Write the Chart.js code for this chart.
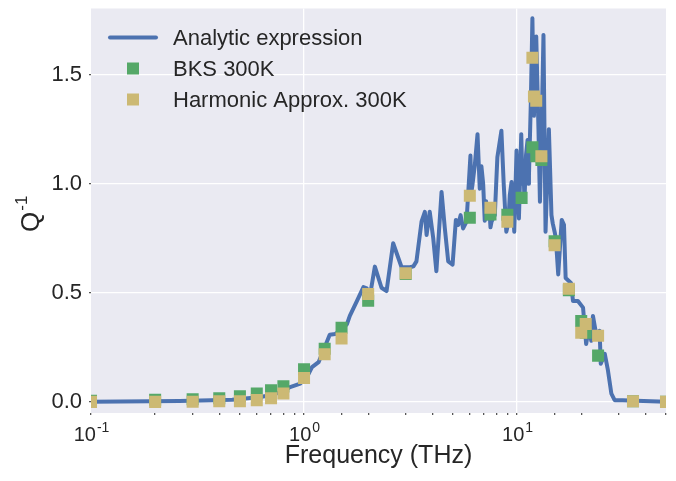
<!DOCTYPE html>
<html>
<head>
<meta charset="utf-8">
<script src="https://cdn.jsdelivr.net/npm/chart.js@4.4.1/dist/chart.umd.min.js"></script>
<style>
  html, body { margin: 0; padding: 0; background: #fff; }
  canvas { display: block; }
</style>
</head>
<body>
<canvas id="chart" width="676" height="481"></canvas>
<script>
// analytic curve
const curveFreq = [0.1, 0.26, 0.46, 0.56, 0.62, 0.7, 0.8, 0.86, 0.96, 1.04, 1.09, 1.17, 1.25, 1.32, 1.40, 1.50, 1.59, 1.64, 1.77, 1.90,
  1.97, 2.05, 2.15, 2.31, 2.44, 2.62, 2.87, 3.14, 3.26, 3.37, 3.56, 3.69, 3.76, 3.89, 4.04, 4.18, 4.42, 4.58, 4.75, 4.98,
  5.16, 5.29, 5.43, 5.58, 5.79, 6.04, 6.1, 6.17, 6.33, 6.52, 6.68, 6.8, 6.93, 7.05, 7.15, 7.23, 7.4, 7.5, 7.59, 7.86,
  8.08, 8.44, 8.66, 8.9, 9.1, 9.24, 9.42, 9.7, 9.94, 10.2, 10.46, 10.6, 10.7, 10.83, 11.01, 11.2, 11.3, 11.37, 11.6, 11.8,
  12.0, 12.3, 12.6, 12.8, 13.0, 13.3, 13.6, 14.1, 14.5, 14.7, 15.0, 15.2, 15.6, 16.2, 16.6, 16.9, 17.9, 18.3, 19.3, 20.4,
  21.1, 21.7, 22.3, 22.7, 23.5, 24.4, 24.7, 25.8, 26.7, 27.7, 28.7, 31.3, 36.2, 50];
const curveQ = [0.0, 0.004, 0.010, 0.018, 0.022, 0.03, 0.05, 0.068, 0.084, 0.12, 0.159, 0.182, 0.25, 0.308, 0.311, 0.33, 0.356, 0.394, 0.462, 0.526,
  0.52, 0.50, 0.62, 0.523, 0.508, 0.727, 0.617, 0.617, 0.621, 0.644, 0.826, 0.871, 0.765, 0.871, 0.75, 0.599, 0.962, 0.795, 0.644, 0.629,
  0.834, 0.811, 0.856, 0.795, 0.826, 1.129, 0.96, 0.993, 1.084, 1.227, 0.977, 1.08, 1.0, 0.83, 0.92, 0.841, 0.90, 0.80, 0.826, 0.856,
  1.121, 1.243, 0.993, 0.78, 0.82, 0.947, 1.008, 0.78, 1.152, 0.841, 1.227, 1.0, 1.1, 0.917, 1.129, 1.2, 1.0, 1.038, 1.371, 1.758,
  1.311, 1.675, 1.25, 0.917, 1.19, 1.682, 0.78, 1.25, 0.856, 0.818, 0.78, 0.75, 0.584, 0.834, 0.811, 0.568, 0.545, 0.462, 0.462, 0.432,
  0.265, 0.341, 0.28, 0.394, 0.311, 0.326, 0.175, 0.22, 0.144, 0.038, 0.008, 0.008, 0.005, 0.0];

// simulation points
const pointFreq = [0.1, 0.2, 0.3, 0.4, 0.5, 0.6, 0.7, 0.8, 1.0, 1.25, 1.5, 2, 3, 6, 7.5, 9, 10.5, 11.8, 12.0, 12.3, 13, 15, 17.5, 20, 21, 24, 35, 50];
const bksQ = [0.005, 0.01, 0.012, 0.017, 0.026, 0.038, 0.053, 0.071, 0.15, 0.244, 0.34, 0.464, 0.586, 0.844, 0.859, 0.858, 0.935, 1.167, null, 1.126,
  1.109, 0.736, 0.512, 0.371, 0.317, 0.212, 0.003, 0.0];
const harmonicQ = [0.0, 0.0, 0.001, 0.003, 0.003, 0.008, 0.017, 0.038, 0.109, 0.218, 0.29, 0.494, 0.59, 0.945, 0.89, 0.826, null, 1.577, 1.40, 1.38,
  1.126, 0.718, 0.518, 0.317, 0.357, 0.303, 0.003, 0.0];

const seriesNames = ['Analytic expression', 'BKS 300K', 'Harmonic Approx. 300K'];
const seriesColors = ['#4C72B0', '#55A868', '#CCB974'];
const xTickExps = [-1, 0, 1];
const xTitle = 'Frequency (THz)';

const FONT = '"Liberation Sans", Arial, Helvetica, sans-serif';
const TEXT = '#262626';

function isDecade(v) {
  if (!v || v <= 0.1) return false;
  const l = Math.log10(v);
  return Math.abs(l - Math.round(l)) < 1e-6;
}

function toPoints(xs, ys) {
  return xs.map((x, i) => ({ x: x, y: ys[i] })).filter(p => p.y !== null);
}

// background, tick labels with superscripts, axis titles and legend
const decor = {
  id: 'decor',
  beforeDraw(chart) {
    const { ctx, chartArea: a } = chart;
    ctx.save();
    ctx.fillStyle = '#EAEAF2';
    ctx.fillRect(a.left, a.top, a.right - a.left, a.bottom - a.top);
    ctx.restore();
  },
  afterDraw(chart) {
    const { ctx, chartArea: a, scales } = chart;
    ctx.save();
    ctx.fillStyle = TEXT;
    ctx.textAlign = 'left';
    ctx.textBaseline = 'alphabetic';

    xTickExps.forEach(e => {
      const x = scales.x.getPixelForValue(Math.pow(10, e));
      const sup = e < 0 ? '-' + (-e) : String(e);
      ctx.font = '20px ' + FONT;
      const w1 = ctx.measureText('10').width;
      ctx.font = '14px ' + FONT;
      const w2 = ctx.measureText(sup).width;
      const x0 = x - (w1 + w2) / 2;
      ctx.font = '20px ' + FONT;
      ctx.fillText('10', x0, a.bottom + 28);
      ctx.font = '14px ' + FONT;
      ctx.fillText(sup, x0 + w1 + 1, a.bottom + 19);
    });

    ctx.font = '25px ' + FONT;
    ctx.textAlign = 'center';
    ctx.fillText(xTitle, (a.left + a.right) / 2, a.bottom + 50);

    // Q^-1
    ctx.save();
    ctx.translate(39, 232);
    ctx.rotate(-Math.PI / 2);
    ctx.textAlign = 'left';
    ctx.font = '26px ' + FONT;
    const wq = ctx.measureText('Q').width;
    ctx.fillText('Q', 0, 0);
    ctx.font = '17px ' + FONT;
    ctx.fillText('-1', wq + 1, -12);
    ctx.restore();

    // legend
    const rows = [a.top + 29, a.top + 60, a.top + 91];
    ctx.textAlign = 'left';
    ctx.textBaseline = 'middle';
    ctx.font = '22px ' + FONT;
    seriesNames.forEach((name, i) => {
      const y = rows[i];
      if (i === 0) {
        ctx.strokeStyle = seriesColors[0];
        ctx.lineWidth = 4;
        ctx.lineCap = 'round';
        ctx.beginPath();
        ctx.moveTo(a.left + 19, y);
        ctx.lineTo(a.left + 65, y);
        ctx.stroke();
      } else {
        ctx.fillStyle = seriesColors[i];
        ctx.fillRect(a.left + 36, y - 6, 12, 12);
      }
      ctx.fillStyle = TEXT;
      ctx.fillText(name, a.left + 82, y + 1);
    });
    ctx.restore();
  }
};

new Chart(document.getElementById('chart'), {
  type: 'scatter',
  data: {
    datasets: [
      {
        label: seriesNames[0],
        data: toPoints(curveFreq, curveQ),
        showLine: true,
        borderColor: seriesColors[0],
        borderWidth: 4,
        borderJoinStyle: 'round',
        pointRadius: 0,
        tension: 0,
        order: 3
      },
      {
        label: seriesNames[1],
        data: toPoints(pointFreq, bksQ),
        pointStyle: 'rect',
        pointRadius: 8.5,
        backgroundColor: seriesColors[1],
        borderWidth: 0,
        order: 2
      },
      {
        label: seriesNames[2],
        data: toPoints(pointFreq, harmonicQ),
        pointStyle: 'rect',
        pointRadius: 8.5,
        backgroundColor: seriesColors[2],
        borderWidth: 0,
        order: 1
      }
    ]
  },
  options: {
    responsive: false,
    animation: false,
    devicePixelRatio: 1,
    layout: { padding: { top: 5, right: 10, left: 0, bottom: 0 } },
    plugins: { legend: { display: false }, tooltip: { enabled: false } },
    scales: {
      x: {
        type: 'logarithmic',
        min: 0.1,
        max: 50,
        border: { display: false },
        grid: {
          color: c => (c.tick && isDecade(c.tick.value)) ? '#ffffff' : 'rgba(0,0,0,0)',
          lineWidth: 1.3,
          tickColor: '#555',
          tickLength: 2
        },
        ticks: { display: false, autoSkip: false },
        afterFit: s => { s.height = 68; s.paddingLeft = 0; s.paddingRight = 0; }
      },
      y: {
        min: -0.051,
        max: 1.803,
        border: { display: false },
        grid: { color: '#ffffff', lineWidth: 1.3, tickColor: '#555', tickLength: 2 },
        ticks: {
          stepSize: 0.5,
          includeBounds: false,
          padding: 7,
          color: TEXT,
          font: { family: FONT, size: 22 },
          callback: v => v.toFixed(1)
        },
        afterFit: s => { s.width = 91; s.paddingTop = 0; s.paddingBottom = 0; }
      }
    }
  },
  plugins: [decor]
});
</script>
</body>
</html>
